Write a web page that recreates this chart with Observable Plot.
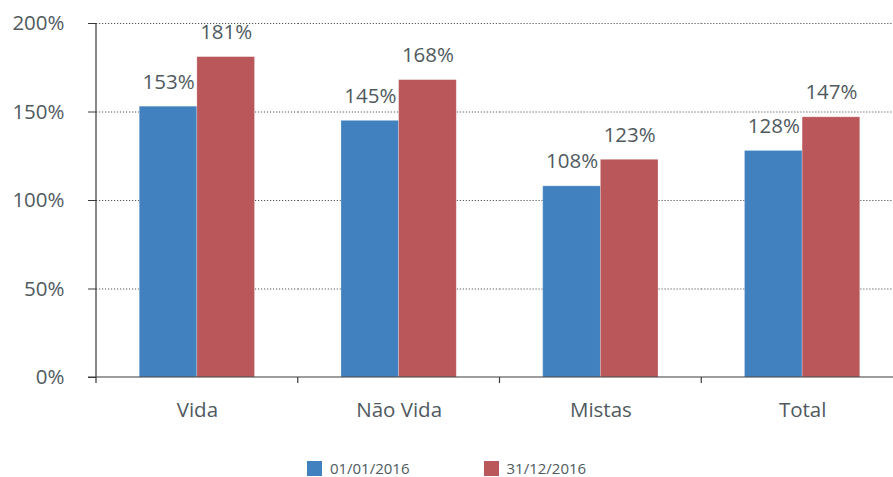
<!DOCTYPE html>
<html>
<head>
<meta charset="utf-8">
<script src="https://cdn.jsdelivr.net/npm/d3@7"></script>
<script src="https://cdn.jsdelivr.net/npm/@observablehq/plot@0.6"></script>
<style>
  html, body { margin: 0; padding: 0; background: #fff; overflow: hidden; }
  #chart svg { display: block; }
  #legend { display: flex; justify-content: center; gap: 74px; font: 15px "Open Sans", sans-serif; color: #505a5e; margin-top: 13px; }
  #legend .item { display: flex; align-items: center; }
  #legend .sw { width: 15px; height: 15px; margin-right: 8px; }
</style>
</head>
<body>
<div id="chart"></div>
<div id="legend"></div>
<script>
const categories = ["Vida", "Não Vida", "Mistas", "Total"];
const series = ["01/01/2016", "31/12/2016"];
const valuesStart = [153, 145, 108, 128];
const valuesEnd = [181, 168, 123, 147];
const colors = ["#4181bf", "#b9575a"];
const yTicks = [0, 50, 100, 150, 200];

const data = [];
categories.forEach((c, i) => {
  data.push({cat: c, series: series[0], value: valuesStart[i]});
  data.push({cat: c, series: series[1], value: valuesEnd[i]});
});

const textColor = "#505a5e";
const font = "Open Sans";

const frameMark = Plot.frame({
  facet: "super",
  render(index, scales, values, dims) {
    const {fx, y} = scales;
    const g = d3.create("svg:g").attr("stroke", "#3a3a3a").attr("stroke-width", 1.2);
    const x0 = dims.marginLeft;
    const y0 = y(0);
    g.append("line").attr("x1", x0).attr("x2", x0).attr("y1", y(200)).attr("y2", y0);
    g.append("line").attr("x1", x0 - 8).attr("x2", dims.width).attr("y1", y0).attr("y2", y0);
    const edges = categories.map(c => fx(c));
    edges.push(fx(categories[categories.length - 1]) + fx.bandwidth());
    edges.forEach(e => {
      g.append("line").attr("x1", e).attr("x2", e).attr("y1", y0).attr("y2", y0 + 6);
    });
    return g.node();
  }
});

const plot = Plot.plot({
  width: 893,
  height: 445,
  marginTop: 23,
  marginBottom: 68,
  marginLeft: 96,
  marginRight: -10,
  style: {fontFamily: font, color: textColor, background: "#fff"},
  fx: {domain: categories, padding: 0, label: null, round: false},
  x: {domain: series, paddingInner: 0, paddingOuter: 0.75, axis: null, round: false},
  y: {domain: [0, 200], axis: null},
  color: {domain: series, range: colors},
  marks: [
    Plot.gridY(yTicks.filter(t => t > 0), {stroke: "#555", strokeOpacity: 1, strokeDasharray: "1.2,1.8", strokeWidth: 1}),
    Plot.barY(data, {fx: "cat", x: "series", y: "value", fill: "series", stroke: "#ffffff", strokeOpacity: 0.3, strokeWidth: 0.8}),
    Plot.text(data, {fx: "cat", x: "series", y: "value", text: d => d.value + "%", lineAnchor: "bottom", dy: -18, fontSize: 20.5, fill: textColor}),
    Plot.axisY({ticks: yTicks, tickFormat: d => d + "%", tickSize: 8, tickPadding: 24, fontSize: 20.5, stroke: "#3a3a3a", fill: textColor, anchor: "left", label: null}),
    Plot.axisFx({anchor: "bottom", tickSize: 0, tickPadding: 25, fontSize: 20.5, fill: textColor, label: null}),
    frameMark
  ]
});
document.getElementById("chart").appendChild(plot);

const legend = document.getElementById("legend");
series.forEach((s, i) => {
  const item = document.createElement("div");
  item.className = "item";
  const sw = document.createElement("div");
  sw.className = "sw";
  sw.style.background = colors[i];
  const t = document.createElement("span");
  t.textContent = s;
  item.appendChild(sw);
  item.appendChild(t);
  legend.appendChild(item);
});
</script>
</body>
</html>
